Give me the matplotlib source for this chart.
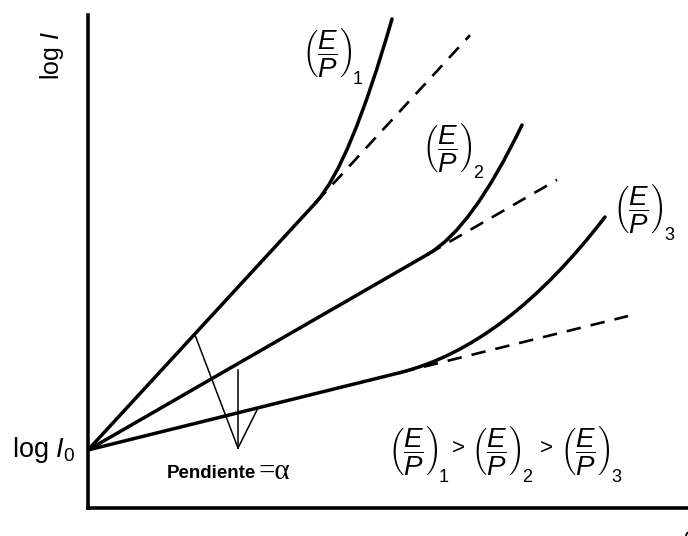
import matplotlib
matplotlib.use('Agg')
import matplotlib.pyplot as plt
from matplotlib.path import Path
from matplotlib.patches import PathPatch

plt.rcParams['font.family'] = ['Liberation Sans', 'DejaVu Sans']
plt.rcParams['mathtext.fontset'] = 'custom'
plt.rcParams['mathtext.rm'] = 'Liberation Sans'
plt.rcParams['mathtext.it'] = 'Liberation Sans:italic'
plt.rcParams['mathtext.bf'] = 'Liberation Sans:bold'

# common intercept (log I0) and the straight-line slope for each E/P
log_i0 = 58
slopes = [1.086, 0.576, 0.248]
# x where each curve leaves its straight line, and where the dashed extension stops
x_break = [228, 340, 312]
x_dash_end = [382, 469, 540]
# quadratic bezier control point and end point of the upturned part
ctrl_pts = [(262, 343), (384, 279), (418, 162)]
end_pts = [(304, 489), (434, 383), (517, 291)]

ep_frac = r'$\left(\dfrac{E}{P}\right)$'
ep_index = ['1', '2', '3']
ep_label_pos = [(239, 456), (359, 361), (550, 300)]

# inequality row at the bottom right
ineq_x = [325, 408, 497]
gt_x = [370, 458]
ineq_y = 57

# slope marker: common vertex and the three points it points at
vertex = (150, 60)
pointer_ends = [(107, 173), (150, 138), (170, 100)]

fig = plt.figure(figsize=(6.88, 5.36), dpi=100)
ax = fig.add_axes([88 / 688, 28 / 536, 600 / 688, 493 / 536])
ax.set_xlim(0, 600)
ax.set_ylim(0, 493)
for s in ['top', 'right']:
    ax.spines[s].set_visible(False)
for s in ['left', 'bottom']:
    ax.spines[s].set_linewidth(2.6)
    ax.spines[s].set_color('black')
ax.set_xticks([])
ax.set_yticks([])

for m, xb, xd, c, e in zip(slopes, x_break, x_dash_end, ctrl_pts, end_pts):
    yb = log_i0 + m * xb
    ax.plot([0, xb], [log_i0, yb], color='black', lw=2.5, solid_capstyle='round')
    ax.plot([xb, xd], [yb, log_i0 + m * xd], color='black', lw=1.9,
            linestyle=(0, (5.5, 3.8)))
    curve = Path([(xb, yb), c, e], [Path.MOVETO, Path.CURVE3, Path.CURVE3])
    ax.add_patch(PathPatch(curve, fill=False, lw=2.5, edgecolor='black',
                           capstyle='round'))

for p in pointer_ends:
    ax.plot([vertex[0], p[0]], [vertex[1], p[1]], color='black', lw=1.1)


def ep_label(x, y, idx):
    # (E/P) with its index hanging low on the right
    ax.text(x, y, ep_frac, fontsize=20, ha='center', va='center')
    ax.text(x + 31, y - 27, idx, fontsize=13, ha='center', va='center')


for idx, (x, y) in zip(ep_index, ep_label_pos):
    ep_label(x, y, idx)

for idx, x in zip(ep_index, ineq_x):
    ep_label(x, ineq_y, idx)
for x in gt_x:
    ax.text(x, ineq_y + 3, '>', fontsize=16, ha='center', va='center')

ax.text(-36, 452, r'log $I$', fontsize=18, rotation=90, ha='center', va='center',
        clip_on=False)
ax.text(-13, 58, r'log $I_0$', fontsize=19.5, ha='right', va='center', clip_on=False)

ax.text(79, 34, 'Pendiente', fontsize=13.5, fontweight='bold', ha='left', va='center')
ax.text(170, 36, '=α', fontsize=21, family='Liberation Serif', ha='left', va='center')

ax.text(595, -34, 'd', fontsize=15, fontstyle='italic', ha='left', va='baseline',
        clip_on=False)

fig.savefig('out.png', dpi=100)
